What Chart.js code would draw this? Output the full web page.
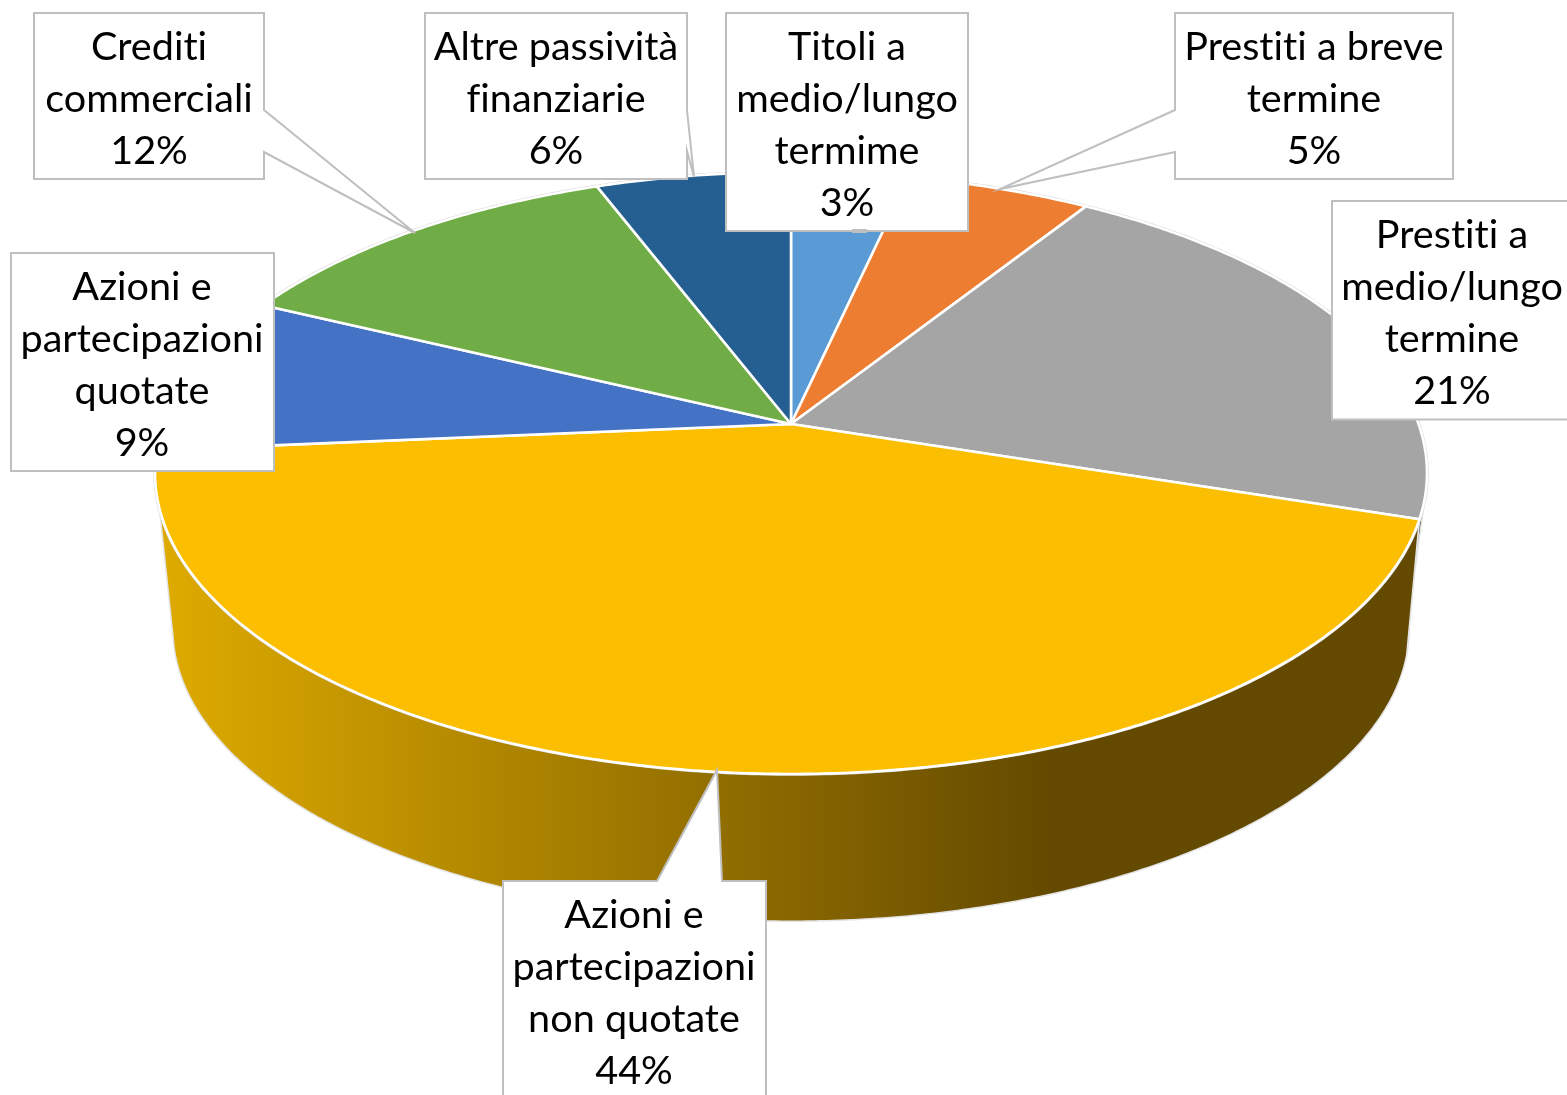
<!DOCTYPE html>
<html lang="it">
<head>
<meta charset="utf-8">
<title>Passività e azioni</title>
<script src="https://cdn.jsdelivr.net/npm/chart.js@4"></script>
<style>
    html, body { margin: 0; padding: 0; background: #fff; overflow: hidden; }
    canvas { display: block; }
</style>
</head>
<body>
<canvas id="myChart" width="1567" height="1095"></canvas>
<script>
// dati
const categories = [
    'Titoli a medio/lungo termime',
    'Prestiti a breve termine',
    'Prestiti a medio/lungo termine',
    'Azioni e partecipazioni non quotate',
    'Azioni e partecipazioni quotate',
    'Crediti commerciali',
    'Altre passività finanziarie'
];
const shares = [3.49, 5.49, 21.02, 43.6, 8.55, 12.05, 5.8];
const sliceColors = ['#5B9BD5', '#ED7D31', '#A5A5A5', '#FBBE00', '#4472C4', '#70AD47', '#255E91'];
const labelLines = [
    ['Titoli a', 'medio/lungo', 'termime'],
    ['Prestiti a breve', 'termine'],
    ['Prestiti a', 'medio/lungo', 'termine'],
    ['Azioni e', 'partecipazioni', 'non quotate'],
    ['Azioni e', 'partecipazioni', 'quotate'],
    ['Crediti', 'commerciali'],
    ['Altre passività', 'finanziarie']
];

// riquadri delle etichette: bordo sinistro, alto, destro, basso e freccia
const calloutBoxes = [
    { l: 726, t: 13, r: 968, b: 231, nub: [852, 867] },
    { l: 1175, t: 13, r: 1453, b: 179, left: [110, 1000, 189, 152] },
    { l: 1332, t: 201, r: 1580, b: 419.5 },
    { l: 503, t: 881, r: 766, b: 1120, top: [657, 717, 770, 722] },
    { l: 11, t: 253, r: 274, b: 471 },
    { l: 34, t: 13, r: 264, b: 179, right: [110, 415, 233, 152] },
    { l: 425, t: 13, r: 687, b: 179, right: [110, 694, 177, 151] }
];
const drawOrder = [1, 5, 6, 0, 2, 4, 3];
const labelCenterX = [847, 1314, 1452, 634, 142, 149, 556];

// prospettiva della torta
const STRETCH_X = 2.1416;
const PERSPECTIVE = 0.1628;
const BASE_SCALE = 0.972;
const BASE_DROP = 157;
const DEG = Math.PI / 180;
const FROM_TOP = -Math.PI / 2;

function rimPoint(arc, angle, scale, drop) {
    const u = Math.cos(angle), v = Math.sin(angle);
    const w = 1 - PERSPECTIVE * v;
    return {
        x: arc.x + scale * arc.outerRadius * STRETCH_X * u / w,
        y: arc.y + drop + scale * arc.outerRadius * v / w
    };
}

function traceRim(ctx, arc, from, to, scale, drop, first) {
    const steps = Math.max(2, Math.ceil(Math.abs(to - from) / (0.5 * DEG)));
    for (let i = 0; i <= steps; i++) {
        const p = rimPoint(arc, from + (to - from) * i / steps, scale, drop);
        if (i === 0 && first) ctx.moveTo(p.x, p.y);
        else ctx.lineTo(p.x, p.y);
    }
}

function drawWall(ctx, arc, topFrom, topTo, baseFrom, baseTo, fill, edge) {
    ctx.beginPath();
    traceRim(ctx, arc, topFrom, topTo, 1, 0, true);
    traceRim(ctx, arc, baseTo, baseFrom, BASE_SCALE, BASE_DROP, false);
    ctx.closePath();
    ctx.fillStyle = fill;
    ctx.fill();
    ctx.strokeStyle = edge;
    ctx.lineWidth = 1.5;
    ctx.stroke();
}

const pie3d = {
    id: 'pie3d',
    beforeDatasetsDraw(chart) {
        const ctx = chart.ctx;
        const arcs = chart.getDatasetMeta(0).data;
        const grey = arcs[2], yellow = arcs[3];

        ctx.save();
        ctx.lineJoin = 'round';

        // fianco visibile
        const wallShade = ctx.createLinearGradient(158, 0, 1050, 0);
        wallShade.addColorStop(0, '#DFAB00');
        wallShade.addColorStop(1, '#644A00');
        drawWall(ctx, grey, FROM_TOP + 103 * DEG, grey.endAngle, FROM_TOP + 97 * DEG, grey.endAngle - 3.6 * DEG,
            '#3F3F47', '#E4E4E4');
        drawWall(ctx, yellow, yellow.startAngle, FROM_TOP + 254 * DEG,
            yellow.startAngle - 3.6 * DEG, FROM_TOP + 259 * DEG, wallShade, '#E4E4E4');

        // faccia superiore
        ctx.beginPath();
        traceRim(ctx, yellow, 0, Math.PI * 2, 1, 0, true);
        ctx.closePath();
        ctx.strokeStyle = '#D4D4D4';
        ctx.lineWidth = 3.5;
        ctx.stroke();

        arcs.forEach((arc, i) => {
            ctx.beginPath();
            ctx.moveTo(arc.x, arc.y);
            traceRim(ctx, arc, arc.startAngle, arc.endAngle, 1, 0, false);
            ctx.closePath();
            ctx.fillStyle = sliceColors[i];
            ctx.fill();
            ctx.strokeStyle = '#FFFFFF';
            ctx.lineWidth = 2.6;
            ctx.stroke();
        });
        ctx.restore();
        return false;
    },
    afterDraw(chart) {
        const ctx = chart.ctx;
        const total = shares.reduce((a, b) => a + b, 0);
        ctx.save();
        drawOrder.forEach(i => {
            const box = calloutBoxes[i];
            ctx.beginPath();
            ctx.moveTo(box.l, box.t);
            if (box.top) {
                ctx.lineTo(box.top[0], box.t);
                ctx.lineTo(box.top[1], box.top[2]);
                ctx.lineTo(box.top[3], box.t);
            }
            ctx.lineTo(box.r, box.t);
            if (box.right) {
                ctx.lineTo(box.r, box.right[0]);
                ctx.lineTo(box.right[1], box.right[2]);
                ctx.lineTo(box.r, box.right[3]);
            }
            ctx.lineTo(box.r, box.b);
            ctx.lineTo(box.l, box.b);
            if (box.left) {
                ctx.lineTo(box.l, box.left[3]);
                ctx.lineTo(box.left[1], box.left[2]);
                ctx.lineTo(box.l, box.left[0]);
            }
            ctx.closePath();
            ctx.fillStyle = '#FFFFFF';
            ctx.fill();
            ctx.strokeStyle = '#BFBFBF';
            ctx.lineWidth = 2;
            ctx.stroke();
            if (box.nub) {
                ctx.beginPath();
                ctx.moveTo(box.nub[0], box.b);
                ctx.lineTo(box.nub[1], box.b);
                ctx.lineWidth = 4;
                ctx.stroke();
            }

            const lines = labelLines[i].concat(Math.round(shares[i] / total * 100) + '%');
            ctx.fillStyle = '#000000';
            ctx.font = '39.6px Lato';
            ctx.letterSpacing = '0.01px';   // niente legature "ti"
            ctx.textAlign = 'center';
            ctx.textBaseline = 'alphabetic';
            lines.forEach((line, n) => {
                ctx.fillText(line, labelCenterX[i], box.t + 47 + n * 52);
            });
        });
        ctx.restore();
    }
};

new Chart(document.getElementById('myChart').getContext('2d'), {
    type: 'pie',
    data: {
        labels: categories,
        datasets: [{
            data: shares,
            backgroundColor: sliceColors,
            borderColor: '#FFFFFF',
            borderWidth: 2
        }]
    },
    options: {
        responsive: false,
        animation: false,
        radius: 293,
        layout: { padding: { left: 15, right: 0, top: 0, bottom: 247 } },
        events: [],
        plugins: {
            legend: { display: false },
            title: { display: false },
            tooltip: { enabled: false }
        }
    },
    plugins: [pie3d]
});
</script>
</body>
</html>
